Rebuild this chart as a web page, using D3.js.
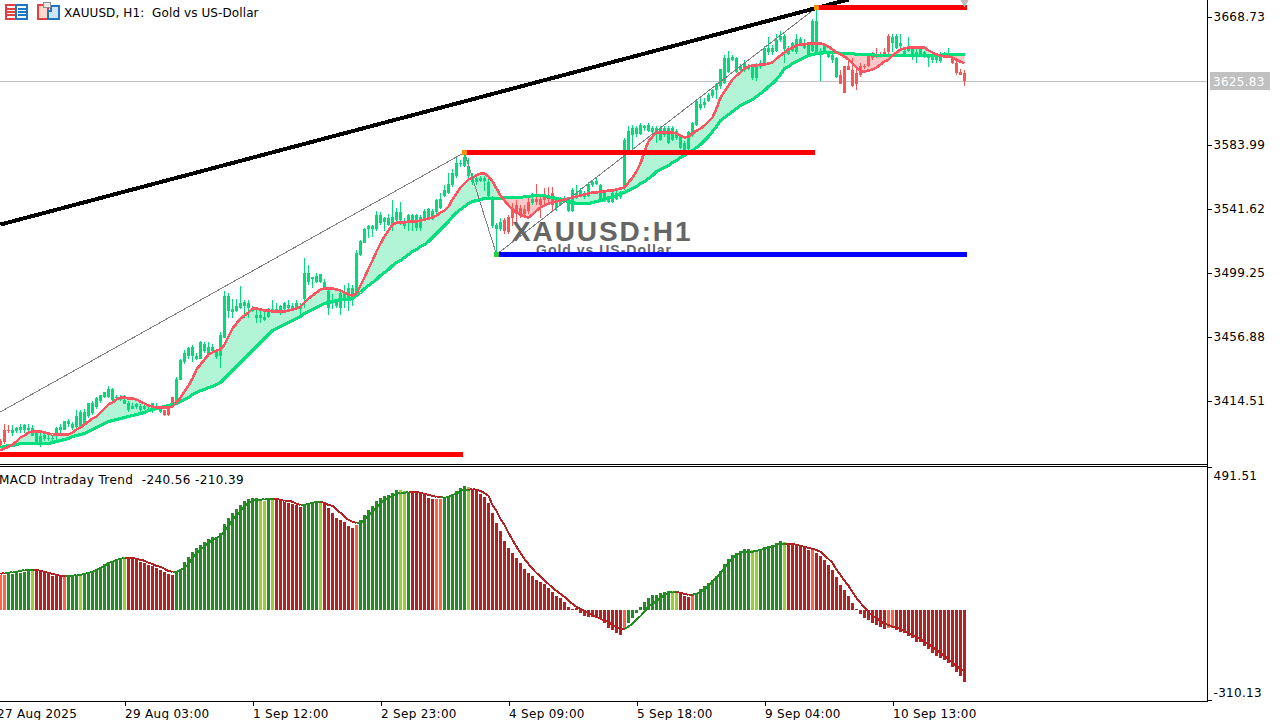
<!DOCTYPE html>
<html>
<head>
<meta charset="utf-8">
<title>XAUUSD, H1</title>
<script src="https://cdn.jsdelivr.net/npm/d3@7"></script>
<style>
body { margin: 0; background: #fff; }
svg { display: block; }
text { font-family: "DejaVu Sans", sans-serif; font-size: 12px; fill: #000; white-space: pre; }
.crisp { shape-rendering: crispEdges; }
.axis text { letter-spacing: 0.3px; }
</style>
</head>
<body>
<script>
// candles, one entry per H1 bar
const opens = [
3388,3395,3395,3393,3394,3395,3395,3395,3391,3386,
3386,3389,3389,3389,3391,3395,3395,3399,3396,3397,
3397,3399,3404,3406,3410,3414,3417,3417,3415,3416,
3415,3412,3408,3409,3410,3408,3409,3410,3410,3410,
3407,3408,3410,3417,3413,3428,3440,3444,3444,3442,
3442,3447,3445,3447,3443,3444,3456,3474,3473,3474,
3476,3477,3476,3474,3469,3469,3468,3470,3474,3474,
3474,3475,3476,3475,3476,3475,3482,3493,3495,3493,
3493,3489,3476,3479,3477,3476,3481,3481,3484,3485,
3511,3519,3528,3528,3528,3532,3533,3531,3530,3534,
3534,3530,3534,3532,3529,3529,3535,3536,3535,3539,
3542,3550,3552,3557,3563,3571,3570,3563,3559,3559,
3560,3560,3550,3530,3528,3528,3534,3536,3542,3544,
3542,3541,3546,3545,3548,3548,3550,3550,3552,3542,
3544,3547,3540,3540,3549,3550,3549,3550,3557,3558,
3548,3547,3546,3546,3548,3549,3555,3579,3590,3591,
3591,3595,3593,3592,3593,3587,3590,3585,3587,3588,
3582,3580,3581,3590,3597,3608,3610,3613,3616,3620,
3623,3625,3632,3640,3632,3633,3633,3634,3628,3628,
3635,3638,3645,3645,3646,3653,3647,3644,3646,3645,
3651,3648,3644,3646,3645,3644,3645,3642,3640,3629,
3630,3636,3636,3633,3631,3636,3636,3643,3644,3644,
3644,3645,3656,3651,3648,3649,3644,3646,3644,3643,
3643,3643,3641,3640,3640,3639,3643,3643,3642,3638,
3632,3631];
const closes = [
3385,3387,3394,3395,3396,3397,3398,3396,3396,3393,
3391,3392,3390,3390,3396,3397,3401,3401,3399,3404,
3407,3407,3413,3413,3416,3418,3420,3422,3422,3417,
3417,3415,3413,3411,3412,3411,3411,3411,3413,3411,
3410,3405,3405,3411,3429,3441,3446,3449,3450,3444,
3453,3452,3450,3450,3447,3458,3484,3484,3475,3477,
3479,3480,3479,3476,3471,3471,3470,3473,3475,3475,
3477,3479,3478,3477,3479,3477,3499,3499,3496,3497,
3498,3493,3487,3481,3481,3486,3486,3489,3489,3512,
3520,3528,3530,3530,3537,3537,3535,3535,3536,3539,
3539,3532,3537,3537,3537,3536,3540,3541,3540,3547,
3548,3554,3558,3565,3572,3572,3576,3570,3563,3562,
3562,3562,3559,3547,3531,3533,3527,3526,3535,3538,
3538,3538,3540,3548,3546,3544,3547,3548,3544,3546,
3548,3548,3547,3554,3552,3554,3552,3558,3559,3560,
3557,3552,3548,3552,3552,3552,3587,3593,3595,3595,
3597,3596,3597,3595,3595,3595,3595,3595,3595,3593,
3590,3585,3592,3598,3613,3611,3612,3617,3620,3624,
3634,3641,3641,3642,3641,3636,3638,3636,3636,3636,
3638,3648,3648,3648,3653,3656,3656,3648,3651,3654,
3654,3651,3650,3666,3666,3646,3650,3645,3643,3641,
3624,3618,3633,3623,3624,3630,3635,3636,3641,3642,
3643,3643,3645,3655,3656,3651,3646,3648,3648,3645,
3648,3645,3643,3642,3642,3644,3644,3644,3638,3631,
3630,3625.83];
const highs = [
3389,3399,3398,3398,3397,3399,3399,3399,3398,3393,
3393,3393,3393,3392,3397,3399,3401,3402,3400,3408,
3408,3409,3413,3414,3417,3418,3420,3424,3423,3418,
3418,3418,3414,3413,3413,3412,3412,3412,3413,3413,
3411,3408,3411,3417,3430,3442,3448,3450,3451,3446,
3454,3453,3453,3452,3448,3460,3487,3486,3482,3482,
3490,3481,3481,3477,3476,3476,3473,3476,3481,3479,
3478,3480,3481,3479,3481,3479,3509,3504,3496,3499,
3498,3495,3489,3485,3482,3487,3491,3492,3491,3514,
3521,3529,3531,3531,3540,3539,3536,3538,3547,3542,
3546,3535,3538,3538,3538,3537,3541,3542,3541,3548,
3552,3557,3565,3568,3575,3574,3579,3575,3565,3563,
3563,3563,3561,3550,3532,3535,3535,3537,3545,3547,
3544,3544,3550,3552,3558,3549,3555,3556,3556,3547,
3549,3550,3548,3555,3557,3555,3553,3559,3560,3562,
3558,3553,3549,3553,3553,3553,3588,3596,3597,3596,
3598,3597,3598,3596,3596,3596,3596,3596,3596,3594,
3591,3586,3593,3599,3614,3616,3615,3618,3621,3625,
3634,3643,3646,3643,3642,3637,3640,3637,3637,3638,
3640,3649,3655,3650,3657,3659,3657,3649,3652,3657,
3655,3654,3651,3667,3675,3648,3651,3646,3644,3642,
3633,3636,3640,3641,3634,3638,3637,3644,3645,3648,
3645,3648,3657,3657,3657,3657,3648,3655,3649,3647,
3649,3646,3644,3645,3643,3645,3645,3648,3643,3639,
3634,3633];
const lows = [
3384,3386,3393,3391,3393,3393,3393,3394,3391,3385,
3384,3388,3388,3387,3388,3393,3395,3397,3395,3396,
3396,3399,3403,3405,3409,3413,3416,3416,3413,3415,
3414,3412,3407,3409,3409,3407,3408,3409,3406,3409,
3406,3404,3404,3410,3413,3428,3439,3442,3440,3441,
3442,3446,3444,3446,3442,3436,3456,3469,3469,3473,
3475,3469,3469,3473,3466,3466,3467,3469,3473,3473,
3471,3474,3475,3474,3475,3471,3476,3491,3489,3492,
3492,3489,3471,3475,3476,3471,3476,3474,3477,3484,
3510,3519,3522,3523,3527,3531,3527,3530,3527,3532,
3531,3528,3527,3527,3527,3527,3534,3535,3534,3538,
3541,3549,3551,3556,3562,3569,3569,3562,3557,3557,
3559,3553,3549,3529,3512,3527,3525,3525,3530,3532,
3535,3535,3538,3544,3544,3535,3544,3545,3540,3540,
3543,3546,3539,3539,3548,3549,3548,3549,3556,3557,
3547,3546,3545,3545,3547,3548,3554,3577,3580,3589,
3590,3593,3592,3591,3585,3586,3589,3584,3586,3587,
3581,3579,3580,3589,3596,3607,3608,3612,3615,3614,
3621,3624,3631,3639,3631,3632,3632,3633,3627,3626,
3634,3637,3643,3643,3645,3652,3638,3643,3645,3644,
3650,3647,3643,3645,3643,3626,3644,3641,3638,3628,
3624,3618,3633,3622,3620,3629,3634,3635,3640,3641,
3642,3642,3644,3645,3647,3648,3643,3645,3640,3638,
3642,3641,3635,3638,3638,3638,3642,3642,3637,3630,
3630,3623];

// fast and slow moving averages
const fastMa = [
3381.4,3382.7,3384,3385.4,3387.4,3390,3391.3,3393.3,3394,3394,
3394,3393.3,3392.6,3392,3392,3392,3392,3392,3393.3,3395.3,
3396.6,3398.6,3400.6,3402.6,3403.9,3406.6,3409.2,3411.9,3413.2,3415.2,
3416.5,3416.5,3415.8,3415.8,3415.2,3413.8,3412.5,3411.2,3410.5,3409.9,
3409.9,3409.9,3409.9,3410.5,3413.2,3416.5,3420.5,3424.4,3429,3435,
3438.3,3441.6,3445,3446.3,3447.6,3448.3,3451.6,3456.9,3462.2,3465.5,
3468.8,3470.8,3472.8,3475.4,3475.4,3474.7,3474.1,3474.1,3473.4,3473.4,
3473.4,3473.4,3474.1,3474.7,3475.4,3476.7,3479.4,3482,3484,3486,
3488,3488.6,3488.6,3488.6,3488,3487.3,3486,3484.7,3484,3485.3,
3490.6,3495.9,3501.9,3507.2,3513.1,3518.4,3523.1,3527,3531,3532.3,
3532.3,3532.3,3533,3533,3533,3533.7,3534.3,3535,3535.6,3537,
3539,3540.3,3542.9,3547.6,3551.5,3555.5,3558.2,3560.8,3562.1,3563.5,
3564.8,3564.8,3562.8,3559.5,3554.8,3550.2,3546.9,3543.6,3541,3539,
3537.6,3536.3,3535.6,3537.6,3540.3,3542.3,3543.6,3544.9,3545.6,3546.2,
3546.9,3547.6,3548.2,3548.9,3549.5,3550.2,3550.9,3551.5,3552.2,3552.2,
3552.9,3552.9,3553.5,3553.5,3554.2,3554.8,3555.5,3558.8,3562.1,3566.1,
3571.4,3579.3,3586,3589.3,3591.9,3591.9,3591.9,3591.9,3591.9,3591.3,
3589.9,3588.6,3589.3,3591.3,3593.2,3594.6,3596.6,3599.2,3601.8,3607.8,
3615.1,3619,3623,3627,3629.6,3631.6,3634.3,3635.6,3636.3,3636.3,
3636.9,3636.9,3637.6,3638.3,3640.9,3642.9,3644.9,3646.9,3648.2,3649.5,
3650.2,3650.2,3650.8,3650.8,3650.8,3650.8,3650.2,3648.8,3646.9,3644.9,
3643.6,3642.2,3640.2,3637.6,3635,3632.3,3632.3,3633,3633.6,3635,
3636.9,3638.9,3640.2,3642.9,3644.9,3646.9,3647.5,3648.2,3648.2,3648.2,
3648.2,3648.2,3646.2,3644.9,3643.6,3642.9,3642.2,3642.2,3641.6,3640.2,
3638.9,3637.6];
const slowMa = [
3383.4,3384,3384.7,3384.7,3385.4,3386,3386,3386,3386,3386,
3386,3386,3386,3386.7,3387.4,3388,3388.7,3389.3,3390.7,3391.3,
3392,3392.6,3394,3395.3,3396.6,3398,3399.3,3400.6,3401.3,3401.9,
3402.6,3403.2,3403.9,3404.6,3405.2,3405.9,3406.6,3407.9,3408.5,3409.2,
3409.9,3410.5,3411.2,3411.9,3412.5,3413.8,3415.2,3416.5,3418.5,3419.8,
3421.1,3421.8,3423.1,3423.8,3425.1,3426.4,3429,3431.7,3434.4,3437,
3439.7,3442.3,3445,3447.6,3450.2,3452.9,3455.5,3458.2,3460.8,3462.2,
3463.5,3464.8,3466.1,3467.5,3468.8,3470.1,3472.1,3473.4,3474.7,3476.1,
3477.4,3478.7,3479.4,3480,3480.7,3481.4,3481.4,3481.4,3482,3484,
3486,3488.6,3490.6,3492.6,3494.6,3497.3,3499.2,3501.2,3503.9,3505.9,
3507.2,3509.2,3511.2,3513.1,3514.5,3516.5,3517.8,3519.8,3522.4,3525,
3527.7,3530.3,3533,3536.3,3539,3541,3542.9,3544.9,3546.2,3546.9,
3547.6,3548.2,3548.2,3548.2,3548.2,3548.2,3548.9,3548.9,3548.9,3548.9,
3548.9,3549.5,3549.5,3550.2,3550.2,3550.2,3550.2,3549.5,3548.9,3548.2,
3547.6,3546.9,3546.2,3545.6,3544.9,3544.9,3544.9,3544.9,3545.6,3546.2,
3546.9,3547.6,3548.9,3549.5,3550.2,3551.5,3552.2,3553.5,3554.8,3556.2,
3558.2,3559.5,3561.5,3563.5,3566.1,3567.4,3568.7,3570,3572,3573.4,
3575.4,3576.7,3578.7,3580,3582,3584,3586.6,3589.3,3592.6,3595.9,
3599.9,3601.8,3603.8,3605.8,3607.8,3609.8,3611.1,3612.4,3613.8,3615.7,
3617.7,3619.7,3622.4,3624.4,3627,3630.3,3634.3,3635.6,3637.6,3638.9,
3640.2,3641.6,3642.9,3643.6,3644.2,3644.2,3644.9,3644.9,3644.9,3644.9,
3644.2,3644.2,3644.2,3644.2,3643.6,3643.6,3643.6,3643.6,3643.6,3642.9,
3642.9,3642.9,3642.9,3642.9,3642.9,3642.9,3642.9,3642.9,3642.9,3642.9,
3642.9,3642.9,3642.9,3642.9,3642.9,3642.9,3643.6,3643.6,3643.6,3643.6,
3643.6,3643.6];

// MACD histogram and signal
const macdBars = [
120,120,124,124,127,127,131,138,138,134,
131,127,124,117,117,117,117,117,117,120,
120,120,131,134,141,148,158,165,169,175,
179,182,179,175,172,165,162,155,151,144,
138,131,124,120,131,138,165,182,200,213,
224,234,244,251,251,265,296,316,334,347,
361,375,382,385,385,382,375,378,378,378,
375,372,368,365,361,354,365,368,372,375,
372,365,351,334,316,310,303,289,282,292,
310,327,344,358,375,385,392,396,402,413,
413,409,406,406,402,399,396,385,382,382,
382,385,392,399,409,420,427,423,416,409,
399,389,368,334,299,272,237,213,196,179,
162,141,127,117,103,96,89,76,62,48,
41,28,10,3,7,-10,-21,-24,-24,-28,
-31,-45,-62,-69,-79,-86,-62,-45,-28,-10,
10,28,41,52,52,58,62,65,65,58,
58,48,45,48,58,72,83,93,103,117,
134,158,175,189,196,203,210,210,206,203,
210,217,220,224,230,237,234,230,227,227,
224,217,206,206,196,186,172,155,138,114,
86,69,48,24,3,-14,-28,-34,-45,-52,
-58,-65,-62,-62,-69,-76,-79,-89,-96,-110,
-110,-124,-134,-148,-158,-165,-172,-182,-196,-213,
-227,-247];
const signalLine = [
124,127,127,131,131,134,138,138,138,138,
134,131,127,124,120,117,117,117,117,120,
120,124,127,131,138,144,151,162,165,172,
175,179,179,179,175,172,169,162,158,151,
148,141,134,131,131,138,144,158,179,193,
206,220,230,241,248,255,272,289,310,323,
341,358,368,375,378,378,382,382,382,382,
378,375,375,372,365,361,361,365,368,372,
372,368,361,358,344,334,320,310,303,299,
299,310,323,337,351,365,378,385,392,399,
402,402,406,406,406,402,399,396,392,389,
389,385,389,396,399,409,413,413,416,413,
409,402,392,361,341,313,292,265,241,217,
196,175,158,141,127,114,100,89,76,65,
55,45,31,21,10,3,-3,-10,-17,-24,
-31,-38,-41,-52,-58,-65,-65,-58,-48,-34,
-21,-7,14,21,31,41,52,58,62,62,
58,55,52,52,55,62,72,83,96,110,
127,144,162,179,189,196,200,200,200,203,
206,210,213,217,224,227,227,227,227,224,
220,217,213,210,206,200,186,175,162,138,
120,100,83,62,41,24,7,-7,-21,-28,
-38,-48,-52,-58,-62,-65,-72,-79,-86,-93,
-100,-110,-117,-127,-138,-148,-158,-169,-182,-193,
-203,-210];
// histogram state: G rising above, Y weak rise, R falling, T weak fall
const macdStates = [
"TTGGGGGGYR","RRRRRRTGGG","YGGGGGGGGG","GYRRRRRRRR","RRRRGGGGGG",
"GGGGGGGGGG","GGGGGYYGYR","RRRRRRGGGG","YRRRRRRRRT","GGGGGGGGGG",
"YYGRRRRRRT","TGGGGGGYRR","RRRRRRRRRR","RRRRRRRRRR","RRRRRRRRRR",
"RRRRRRTGGG","GGGGGGGGYY","RRRTGGGGGG","GGGGGGGGYY","GGGGGGYRRR",
"RRRTRRRRRR","RRRRRRRRRR","RRTTRRRRRR","RRRRRRRRRR","RR"
].join("").split("");

// axis labels
const priceTicks = [3668.73, 3583.99, 3541.62, 3499.25, 3456.88, 3414.51];
const macdTicks = [491.51, -310.13];
const timeTicks = [-1, 31, 63, 95, 127, 159, 191, 223];
const timeLabels = ["27 Aug 2025", "29 Aug 03:00", "1 Sep 12:00", "2 Sep 23:00", "4 Sep 09:00", "5 Sep 18:00", "9 Sep 04:00", "10 Sep 13:00"];
const lastPrice = 3625.83;

// levels and zigzag drawn on the chart
const resistFrom = [0, 116, 204];
const resistTo = [115, 203, 241];
const resistPrice = [3378.8, 3578.7, 3674.7];
const supportFrom = [124];
const supportTo = [241];
const supportPrice = [3511.2];
const zigzagBars = [0, 116, 124, 204];
const zigzagPrices = [3407, 3578.7, 3511.2, 3674.7];
const trendBars = [0, 212];
const trendPrices = [3531, 3680];

const WIDTH = 1282, HEIGHT = 720;
const AXIS_X = 1207;

const COLOURS = { G: "#228b22", Y: "#9acd32", R: "#b22222", T: "#ff6347" };
const UP = "#00dc78", DOWN = "#fa5555";

const svg = d3.select("body").append("svg")
	.attr("width", WIDTH)
	.attr("height", HEIGHT);

// bar index to pixel, 4px per bar
const x = d3.scaleLinear().domain([0, 241]).range([0.5, 964.5]);
const yPrice = d3.scaleLinear().domain([3668.73, 3414.51]).range([16.5, 400.5]);
const yMacd = d3.scaleLinear().domain([491.51, -310.13]).range([467, 700]);

// hyphen rather than the typographic minus d3 puts in
const fmt = v => v.toFixed(2);

const bars = d3.range(opens.length);

svg.append("defs").append("clipPath").attr("id", "mainClip")
	.append("rect").attr("width", AXIS_X).attr("height", 464);

const main = svg.append("g").attr("clip-path", "url(#mainClip)");

// last price line goes under everything
main.append("line").attr("class", "crisp")
	.attr("x1", 0).attr("x2", AXIS_X)
	.attr("y1", yPrice(lastPrice)).attr("y2", yPrice(lastPrice))
	.attr("stroke", "#c0c0c0");

// shading between the two averages, mint while fast is on top, pink otherwise
const bandUp = d3.area().x(i => x(i))
	.y0(i => yPrice(slowMa[i]))
	.y1(i => yPrice(Math.max(fastMa[i], slowMa[i])));
const bandDown = d3.area().x(i => x(i))
	.y0(i => yPrice(slowMa[i]))
	.y1(i => yPrice(Math.min(fastMa[i], slowMa[i])));
main.append("path").attr("d", bandUp(bars)).attr("fill", "#b2f5d6");
main.append("path").attr("d", bandDown(bars)).attr("fill", "#ffc8c8");

// candles
const candle = main.append("g").attr("class", "crisp").selectAll("g")
	.data(bars).enter().append("g")
	.attr("fill", i => closes[i] >= opens[i] ? UP : DOWN);
candle.append("rect")
	.attr("x", i => x(i) - 0.5)
	.attr("width", 1)
	.attr("y", i => yPrice(highs[i]))
	.attr("height", i => yPrice(lows[i]) - yPrice(highs[i]));
candle.append("rect")
	.attr("x", i => x(i) - 1.5)
	.attr("width", 3)
	.attr("y", i => yPrice(Math.max(opens[i], closes[i])))
	.attr("height", i => Math.max(1, Math.abs(yPrice(opens[i]) - yPrice(closes[i]))));

// averages
const maLine = values => d3.line().x(i => x(i)).y(i => yPrice(values[i]))(bars);
main.append("path").attr("class", "crisp").attr("d", maLine(slowMa)).attr("fill", "none")
	.attr("stroke", "#00e07c").attr("stroke-width", 3);
main.append("path").attr("class", "crisp").attr("d", maLine(fastMa)).attr("fill", "none")
	.attr("stroke", "#fa5560").attr("stroke-width", 2.6);

// zigzag and its pivots
main.append("path").attr("class", "crisp")
	.attr("d", d3.line().x((d, k) => x(d)).y((d, k) => yPrice(zigzagPrices[k]))(zigzagBars))
	.attr("fill", "none").attr("stroke", "#808080").attr("stroke-width", 1);

// trend line
main.append("line").attr("class", "crisp")
	.attr("x1", x(trendBars[0])).attr("y1", yPrice(trendPrices[0]))
	.attr("x2", x(trendBars[1])).attr("y2", yPrice(trendPrices[1]))
	.attr("stroke", "#000").attr("stroke-width", 4);

// watermark
main.append("text").attr("x", 512).attr("y", 241)
	.style("font-family", "'Liberation Sans'").style("font-size", "28px")
	.style("font-weight", "bold").style("letter-spacing", "1.9px").style("fill", "#666")
	.text("XAUUSD:H1");
main.append("text").attr("x", 536).attr("y", 255)
	.style("font-family", "'Liberation Sans'").style("font-size", "14px")
	.style("font-weight", "bold").style("letter-spacing", "1px").style("fill", "#666")
	.text("Gold vs US-Dollar");

// resistance and support levels
const levels = main.append("g").attr("class", "crisp");
levels.selectAll(".res").data(resistPrice).enter().append("rect").attr("class", "res")
	.attr("x", (d, k) => x(resistFrom[k]) - 0.5)
	.attr("width", (d, k) => x(resistTo[k]) - x(resistFrom[k]) + 2.5)
	.attr("y", d => yPrice(d) - 2.5).attr("height", 5).attr("fill", "#ff0000");
levels.selectAll(".sup").data(supportPrice).enter().append("rect").attr("class", "sup")
	.attr("x", (d, k) => x(supportFrom[k]))
	.attr("width", (d, k) => x(supportTo[k]) - x(supportFrom[k]) + 2)
	.attr("y", d => yPrice(d) - 2.5).attr("height", 5).attr("fill", "#0000ff");

// pivots: orange on highs, green on lows
main.append("g").attr("class", "crisp").selectAll("rect")
	.data(zigzagBars.slice(1)).enter().append("rect")
	.attr("x", d => x(d) - 2.5).attr("width", 5)
	.attr("y", (d, k) => yPrice(zigzagPrices[k + 1]) - 2.5).attr("height", 5)
	.attr("fill", (d, k) => k === 1 ? "#2ecc40" : "#ff8c00");

// small grey marker over the last bar
main.append("path")
	.attr("d", d3.symbol(d3.symbolTriangle, 70)())
	.attr("transform", `translate(${x(241)},0) rotate(180)`)
	.attr("fill", "#bdbdbd");

// MACD pane
const macdColour = i => COLOURS[macdStates[i]];
svg.append("g").attr("class", "crisp").selectAll("rect")
	.data(bars).enter().append("rect")
	.attr("x", i => x(i) - 1.5).attr("width", 3)
	.attr("y", i => Math.min(yMacd(macdBars[i]), yMacd(0)))
	.attr("height", i => Math.abs(yMacd(macdBars[i]) - yMacd(0)))
	.attr("fill", macdColour);

// signal line takes the colour of the histogram, one segment per bar
svg.append("g").selectAll("line")
	.data(bars.slice(1)).enter().append("line").attr("class", "crisp")
	.attr("x1", i => x(i - 1)).attr("x2", i => x(i))
	.attr("y1", i => yMacd(signalLine[i - 1])).attr("y2", i => yMacd(signalLine[i]))
	.attr("stroke", i => "GY".includes(macdStates[i]) ? COLOURS.G : COLOURS.R)
	.attr("stroke-width", 2);

svg.append("text").attr("x", -1).attr("y", 484)
	.style("letter-spacing", "0.4px")
	.text("MACD Intraday Trend  -240.56 -210.39");

// pane borders
const frame = svg.append("g").attr("class", "crisp").attr("stroke", "#000");
frame.append("line").attr("x1", 0).attr("x2", AXIS_X).attr("y1", 464.5).attr("y2", 464.5);
frame.append("line").attr("x1", 0).attr("x2", AXIS_X).attr("y1", 466.5).attr("y2", 466.5);

// right hand axes
const priceAxis = d3.axisRight(yPrice).tickValues(priceTicks)
	.tickFormat(fmt).tickSize(4).tickPadding(2);
const gPrice = svg.append("g").attr("class", "crisp axis")
	.attr("transform", `translate(${AXIS_X + 0.5},0)`).call(priceAxis);
gPrice.select(".domain").remove();
gPrice.attr("font-family", null).attr("font-size", null);

const macdAxis = d3.axisRight(yMacd).tickValues(macdTicks)
	.tickFormat(fmt).tickSize(4).tickPadding(2);
const gMacd = svg.append("g").attr("class", "crisp axis")
	.attr("transform", `translate(${AXIS_X + 0.5},0)`).call(macdAxis);
gMacd.select(".domain").remove();
gMacd.selectAll("text").attr("dy", d => d > 0 ? "1.0em" : "-0.3em");

svg.append("line").attr("class", "crisp")
	.attr("x1", AXIS_X + 0.5).attr("x2", AXIS_X + 0.5)
	.attr("y1", 0).attr("y2", 701).attr("stroke", "#000");

// time axis
const timeAxis = d3.axisBottom(x).tickValues(timeTicks)
	.tickFormat((d, k) => timeLabels[k]).tickSize(4).tickPadding(4);
const gTime = svg.append("g").attr("class", "crisp axis")
	.attr("transform", "translate(0,701.5)").call(timeAxis);
gTime.select(".domain").remove();
gTime.selectAll("text").attr("text-anchor", "start");
svg.append("line").attr("class", "crisp")
	.attr("x1", 0).attr("x2", AXIS_X + 1)
	.attr("y1", 701.5).attr("y2", 701.5).attr("stroke", "#000");

// last price tag
const tagY = yPrice(lastPrice);
svg.append("rect").attr("class", "crisp")
	.attr("x", 1210).attr("y", tagY - 9).attr("width", 60).attr("height", 18)
	.attr("fill", "#c0c0c0");
svg.append("text").attr("x", 1213).attr("y", tagY + 4.5)
	.style("fill", "#fff").style("letter-spacing", "0.3px").text(fmt(lastPrice));

// header
svg.append("text").attr("x", 64).attr("y", 17).style("letter-spacing", "0.1px")
	.text("XAUUSD, H1:  Gold vs US-Dollar");

// the two toolbar icons left of the header
const icon = svg.append("g").attr("class", "crisp");
icon.append("rect").attr("x", 5.5).attr("y", 4.5).attr("width", 10.5).attr("height", 14).attr("fill", "#fff").attr("stroke", "#e04040").attr("stroke-width", 2);
icon.append("rect").attr("x", 16).attr("y", 4.5).attr("width", 10.5).attr("height", 14).attr("fill", "#fff").attr("stroke", "#1e78c8").attr("stroke-width", 2);
[8, 11, 14].forEach(y0 => {
	icon.append("rect").attr("x", 7).attr("y", y0).attr("width", 8).attr("height", 1.5).attr("fill", "#e04040");
	icon.append("rect").attr("x", 18).attr("y", y0).attr("width", 8).attr("height", 1.5).attr("fill", "#1e78c8");
});
icon.append("path").attr("d", "M37.5 4.5H47.5V18.5H37.5Z").attr("fill", "#ffd8cc").attr("stroke", "#e04040").attr("stroke-width", 2);
icon.append("path").attr("d", "M50.5 5.5H58.5V18.5H47.5V10.5H50.5Z").attr("fill", "#cfe6fa").attr("stroke", "#1e78c8").attr("stroke-width", 2);
icon.append("rect").attr("x", 43.5).attr("y", 2.5).attr("width", 7).attr("height", 5).attr("fill", "#e8e8e8").attr("stroke", "#909090");
</script>
</body>
</html>
